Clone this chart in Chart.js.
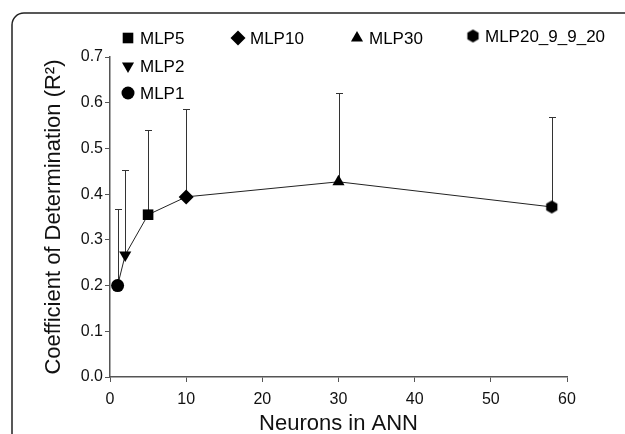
<!DOCTYPE html>
<html>
<head>
<meta charset="utf-8">
<script src="https://cdn.jsdelivr.net/npm/chart.js@4/dist/chart.umd.min.js"></script>
<style>
  body { margin: 0; background: #fff; }
  #wrap { width: 625px; height: 434px; }
</style>
</head>
<body>
<div id="wrap"><canvas id="myChart" width="625" height="434"></canvas></div>
<script>
// data
let models = ["MLP1", "MLP2", "MLP5", "MLP10", "MLP30", "MLP20_9_9_20"];
let neurons = [1, 2, 5, 10, 30, 58];
let r2 = [0.200, 0.267, 0.355, 0.394, 0.427, 0.372];
let sd = [0.167, 0.186, 0.185, 0.192, 0.194, 0.196];
let xTicks = [0, 10, 20, 30, 40, 50, 60];
let yTicks = [0.0, 0.1, 0.2, 0.3, 0.4, 0.5, 0.6, 0.7];

// hexagon marker, chart.js has none
function makeHex(r) {
  let c = document.createElement("canvas");
  c.width = r * 2 + 2;
  c.height = r * 2 + 2;
  let g = c.getContext("2d");
  g.fillStyle = "#000";
  g.beginPath();
  for (let i = 0; i < 6; i++) {
    let a = Math.PI / 2 + i * Math.PI / 3;
    let px = r + 1 + r * Math.cos(a);
    let py = r + 1 + r * Math.sin(a);
    if (i == 0) g.moveTo(px, py); else g.lineTo(px, py);
  }
  g.closePath();
  g.fill();
  return c;
}
let hex = makeHex(6.5);

// marker per model
let styles = ["circle", "triangle", "rect", "rectRot", "triangle", hex];
let rotations = [0, 180, 0, 0, 0, 0];
let radii = [6.5, 7, 7.5, 7.5, 7, 6.5];

let points = neurons.map((n, i) => ({ x: n, y: r2[i] }));

// frame around the figure
const framePlugin = {
  id: "frame",
  beforeDraw(chart) {
    let ctx = chart.ctx;
    ctx.save();
    ctx.strokeStyle = "#222";
    ctx.lineWidth = 1.5;
    let r = 12;
    ctx.beginPath();
    ctx.moveTo(12, 440);
    ctx.lineTo(12, 13 + r);
    ctx.arcTo(12, 13, 12 + r, 13, r);
    ctx.lineTo(640, 13);
    ctx.stroke();
    ctx.restore();
  },
};

// upper error bars with caps
const errorBars = {
  id: "errorBars",
  beforeDatasetsDraw(chart) {
    let ctx = chart.ctx;
    let xs = chart.scales.x, ys = chart.scales.y;
    ctx.save();
    ctx.strokeStyle = "#333";
    ctx.lineWidth = 1;
    for (let i = 0; i < neurons.length; i++) {
      let x = Math.round(xs.getPixelForValue(neurons[i])) + 0.5;
      let y0 = ys.getPixelForValue(r2[i]);
      let y1 = Math.round(ys.getPixelForValue(r2[i] + sd[i])) + 0.5;
      ctx.beginPath();
      ctx.moveTo(x, y0);
      ctx.lineTo(x, y1);
      ctx.moveTo(x - 3.5, y1);
      ctx.lineTo(x + 3.5, y1);
      ctx.stroke();
    }
    ctx.restore();
  },
};

// legend laid out like the original figure
const legendPlugin = {
  id: "customLegend",
  afterDraw(chart) {
    let ctx = chart.ctx;
    // order: MLP5, MLP10, MLP30, MLP20_9_9_20, MLP2, MLP1
    let spots = [
      { i: 2, x: 128, y: 38 },
      { i: 3, x: 238, y: 38 },
      { i: 4, x: 357, y: 38 },
      { i: 5, x: 473, y: 36 },
      { i: 1, x: 128, y: 66 },
      { i: 0, x: 128, y: 93 },
    ];
    ctx.save();
    ctx.fillStyle = "#000";
    ctx.strokeStyle = "#000";
    ctx.font = "17px 'Liberation Sans', Arial, sans-serif";
    ctx.textBaseline = "middle";
    for (let s of spots) {
      Chart.helpers.drawPoint(ctx, {
        pointStyle: styles[s.i],
        rotation: rotations[s.i],
        radius: radii[s.i],
        borderWidth: 0,
      }, s.x, s.y);
      ctx.fillStyle = "#000";
      ctx.fillText(models[s.i], s.x + 12, s.y + 1);
    }
    ctx.restore();
  },
};

let myChart = new Chart("myChart", {
  type: "line",
  data: {
    datasets: [
      {
        data: points,
        borderColor: "#222",
        borderWidth: 1,
        backgroundColor: "#000",
        pointBackgroundColor: "#000",
        pointBorderColor: "#000",
        pointBorderWidth: 0,
        pointStyle: styles,
        pointRotation: rotations,
        pointRadius: radii,
        tension: 0,
      },
    ],
  },
  options: {
    responsive: false,
    animation: false,
    layout: { padding: { left: 41, right: 58, top: 57, bottom: 0 } },
    plugins: {
      legend: { display: false },
      tooltip: { enabled: false },
    },
    scales: {
      x: {
        type: "linear",
        min: 0,
        max: 60,
        afterBuildTicks: (s) => { s.ticks = xTicks.map((v) => ({ value: v })); },
        afterFit: (s) => { s.height = 57; },
        grid: { drawOnChartArea: false, drawTicks: true, tickLength: 5, color: "#555" },
        border: { display: true, color: "#555", width: 1.5 },
        ticks: {
          color: "#111",
          padding: 8,
          font: { family: "'Liberation Sans', Arial, sans-serif", size: 16 },
        },
        title: {
          display: true,
          text: "Neurons in ANN",
          color: "#111",
          padding: { top: 0, bottom: -3 },
          font: { family: "'Liberation Sans', Arial, sans-serif", size: 22 },
        },
      },
      y: {
        type: "linear",
        min: 0,
        max: 0.7,
        afterBuildTicks: (s) => { s.ticks = yTicks.map((v) => ({ value: v })); },
        afterFit: (s) => { s.width = 69; },
        grid: { drawOnChartArea: false, drawTicks: true, tickLength: 5, color: "#555" },
        border: { display: true, color: "#555", width: 1.5 },
        ticks: {
          color: "#111",
          padding: 2,
          callback: (v) => v.toFixed(1),
          font: { family: "'Liberation Sans', Arial, sans-serif", size: 16 },
        },
        title: {
          display: true,
          text: "Coefficient of Determination (R²)",
          color: "#111",
          padding: { top: 0, bottom: 0 },
          font: { family: "'Liberation Sans', Arial, sans-serif", size: 22 },
        },
      },
    },
  },
  plugins: [framePlugin, errorBars, legendPlugin],
});
</script>
</body>
</html>
